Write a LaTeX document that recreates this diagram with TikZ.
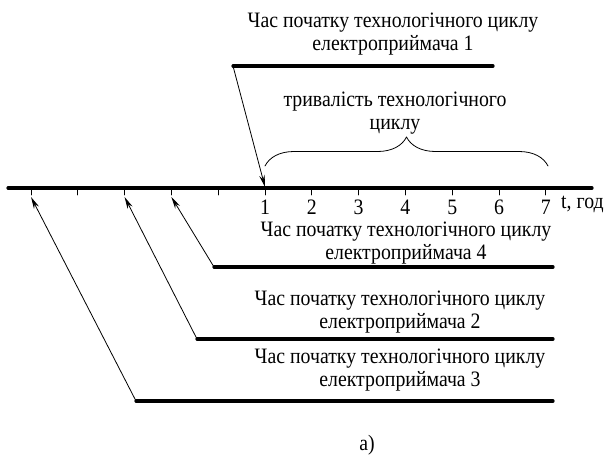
\documentclass[tikz,border=0pt]{standalone}
\usepackage{fontspec}
\setmainfont[FakeStretch=0.9]{Liberation Serif}
\usetikzlibrary{arrows.meta,decorations.pathreplacing}

\begin{document}
\begin{tikzpicture}[x=1pt, y=-1pt, >={Stealth[length=12pt,width=5.5pt]},
		font=\fontsize{22}{23}\selectfont, line join=round, line cap=round,
		shelf/.style={line width=3.2pt},
		lbl/.style={align=center, inner sep=0pt}]
			\useasboundingbox (0,0) rectangle (610,464);
			% time axis
			\draw[shelf] (8,188) coordinate (a0) -- (592,188) coordinate (a1);
			\foreach \k in {0,1,...,11}{
				\draw[line width=0.8pt] (31+46.8*\k,188) -- (31+46.8*\k,195);
				\coordinate (t\k) at (31+46.8*\k,197);
			}
			\foreach \n in {1,2,...,7}{
				\node[inner sep=0pt] (n\n) at ({31+46.8*(\n+4)},207) {\n};
			}
			\node[anchor=west, inner sep=0pt] (tlab) at (561,204) {t, год};
			\coordinate (top1) at (265,187);
			% receiver 1
			\node[lbl] (l1) at (393,34) {Час початку технологічного циклу\\електроприймача 1};
			\draw[shelf] (233,66) coordinate (s1) -- (493,66);
			\draw[->, line width=0.8pt] (s1) -- (top1);
			% duration
			\draw[line width=0.8pt, decorate, decoration={brace, amplitude=29pt}] (265,166) coordinate (b0) -- (548,166) coordinate (b1);
			\node[lbl] (dur) at (395,113) {тривалість технологічного\\циклу};
			% receivers 4, 2, 3
			\node[lbl] (l4) at (406,243) {Час початку технологічного циклу\\електроприймача 4};
			\draw[shelf] (214,267) coordinate (s4) -- (553,267);
			\draw[->, line width=0.8pt] (s4) -- (t3);
			\node[lbl] (l2) at (400,312) {Час початку технологічного циклу\\електроприймача 2};
			\draw[shelf] (197,339) coordinate (s2) -- (553,339);
			\draw[->, line width=0.8pt] (s2) -- (t2);
			\node[lbl] (l3) at (400,370) {Час початку технологічного циклу\\електроприймача 3};
			\draw[shelf] (136,401) coordinate (s3) -- (553,401);
			\draw[->, line width=0.8pt] (s3) -- (t0);
			\node (cap) at (367,445) {а)};
		\end{tikzpicture}
\end{document}
